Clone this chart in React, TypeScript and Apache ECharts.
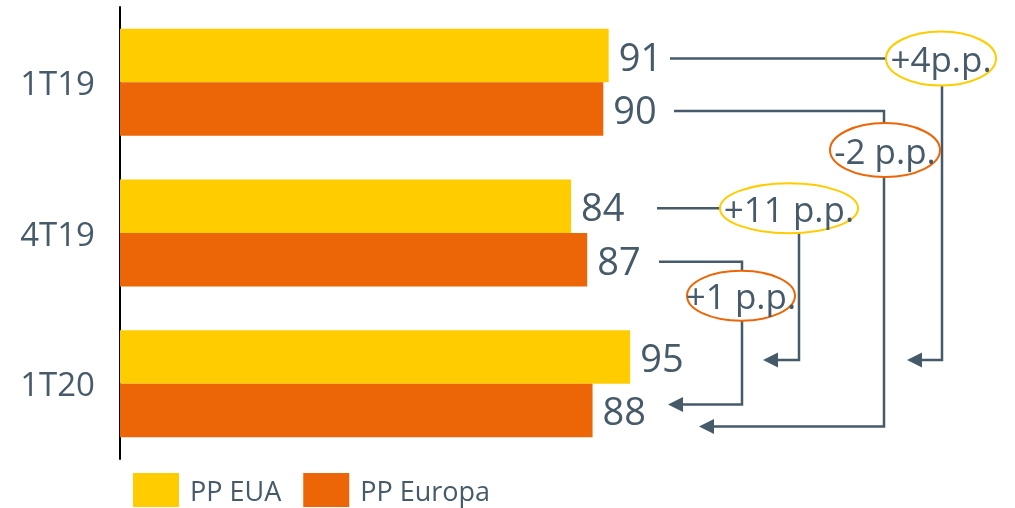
import React, { useEffect, useRef } from "react";
import * as echarts from "echarts";

const categories = ["1T19", "4T19", "1T20"];
const seriesNames = ["PP EUA", "PP Europa"];
const ppEUA = [91, 84, 95];
const ppEuropa = [90, 87, 88];
const changeLabels = ["+4p.p.", "-2 p.p.", "+11 p.p.", "+1 p.p."];

const YELLOW = "#FFCC00";
const ORANGE = "#EC6608";
const SLATE = "#465A69";
const FONT = "Open Sans";
const GAP = 0.29;

// annotation layout (styling/positions only)
const annotations = [
  { text: changeLabels[0], series: 0, fromCat: 0, toCat: 2, color: YELLOW, mode: "inline", startX: 670, ex: 941, ey: 0, rx: 55, ry: 27, vx: 942, tipX: 907, fromDy: 3, toDy: 3 },
  { text: changeLabels[1], series: 1, fromCat: 0, toCat: 2, color: ORANGE, mode: "below", startX: 674, ex: 885, ey: 39, rx: 55, ry: 27, vx: 884, tipX: 699, fromDy: 2, toDy: 16 },
  { text: changeLabels[2], series: 0, fromCat: 1, toCat: 2, color: YELLOW, mode: "inline", startX: 657, ex: 789, ey: 0, rx: 69, ry: 25, vx: 799, tipX: 763, fromDy: 2, toDy: 3 },
  { text: changeLabels[3], series: 1, fromCat: 1, toCat: 2, color: ORANGE, mode: "below", startX: 659, ex: 741, ey: 34, rx: 54, ry: 25, vx: 742, tipX: 668, fromDy: 2, toDy: -6 },
];

export default function App() {
  const ref = useRef<HTMLDivElement>(null);
  useEffect(() => {
    if (!ref.current) return;
    const chart = echarts.init(ref.current, null, { renderer: "svg" });
    const labelCfg = {
      show: true,
      position: "right",
      distance: 10,
      fontSize: 38,
      color: SLATE,
      fontFamily: FONT,
    };
    chart.setOption({
      animation: false,
      textStyle: { fontFamily: FONT },
      grid: { left: 120, top: 7, width: 537, height: 452 },
      xAxis: { type: "value", min: 0, max: 100, show: false },
      yAxis: {
        type: "category",
        data: categories,
        inverse: true,
        axisLine: { show: true, lineStyle: { color: "#000", width: 2 } },
        axisTick: { show: false },
        axisLabel: { fontSize: 33, color: SLATE, margin: 25, fontFamily: FONT },
        splitLine: { show: false },
      },
      legend: {
        left: 133,
        top: 473,
        padding: 0,
        itemWidth: 46,
        itemHeight: 34,
        itemGap: 22,
        icon: "rect",
        textStyle: { fontSize: 27, color: SLATE, fontFamily: FONT, padding: [0, 0, 0, 6] },
        data: seriesNames,
      },
      series: [
        {
          name: seriesNames[0],
          type: "bar",
          data: ppEUA,
          itemStyle: { color: YELLOW },
          barGap: "0%",
          barCategoryGap: GAP * 100 + "%",
          label: labelCfg,
        },
        {
          name: seriesNames[1],
          type: "bar",
          data: ppEuropa,
          itemStyle: { color: ORANGE },
          barGap: "0%",
          barCategoryGap: GAP * 100 + "%",
          label: labelCfg,
        },
      ],
    });

    const c0 = chart.convertToPixel({ xAxisIndex: 0, yAxisIndex: 0 }, [0, 0]) as number[];
    const c1 = chart.convertToPixel({ xAxisIndex: 0, yAxisIndex: 0 }, [0, 1]) as number[];
    const band = c1[1] - c0[1];
    const bw = (band * (1 - GAP)) / 2;
    const barY = (s: number, cat: number) => {
      const c = chart.convertToPixel({ xAxisIndex: 0, yAxisIndex: 0 }, [0, cat]) as number[];
      return c[1] + (s === 0 ? -bw / 2 : bw / 2);
    };

    const lineStyle = { stroke: SLATE, lineWidth: 2.5 };
    const g: any[] = [];
    annotations.forEach((a) => {
      const fy = barY(a.series, a.fromCat) + a.fromDy;
      const ty = barY(a.series, a.toCat) + a.toDy;
      let ecy: number;
      if (a.mode === "inline") {
        ecy = fy;
        g.push({ type: "line", shape: { x1: a.startX, y1: fy, x2: a.ex - a.rx, y2: fy }, style: lineStyle });
      } else {
        ecy = fy + a.ey;
        g.push({
          type: "polyline",
          shape: { points: [[a.startX, fy], [a.vx, fy], [a.vx, ecy - a.ry]] },
          style: { ...lineStyle, fill: "none" },
        });
      }
      g.push({
        type: "polyline",
        shape: { points: [[a.vx, ecy + a.ry], [a.vx, ty], [a.tipX + 12, ty]] },
        style: { ...lineStyle, fill: "none" },
      });
      g.push({
        type: "polygon",
        shape: { points: [[a.tipX, ty], [a.tipX + 15, ty - 7.5], [a.tipX + 15, ty + 7.5]] },
        style: { fill: SLATE },
      });
      g.push({
        type: "ellipse",
        shape: { cx: a.ex, cy: ecy, rx: a.rx, ry: a.ry },
        style: { fill: "none", stroke: a.color, lineWidth: 2 },
      });
      g.push({
        type: "text",
        x: a.ex,
        y: ecy,
        style: {
          text: a.text,
          fill: SLATE,
          fontSize: 35,
          fontFamily: FONT,
          align: "center",
          verticalAlign: "middle",
        },
      });
    });
    chart.setOption({ graphic: g });

    return () => chart.dispose();
  }, []);
  return (
    <div
      ref={ref}
      style={{ position: "fixed", left: 0, top: 0, width: 1015, height: 508 }}
    />
  );
}
